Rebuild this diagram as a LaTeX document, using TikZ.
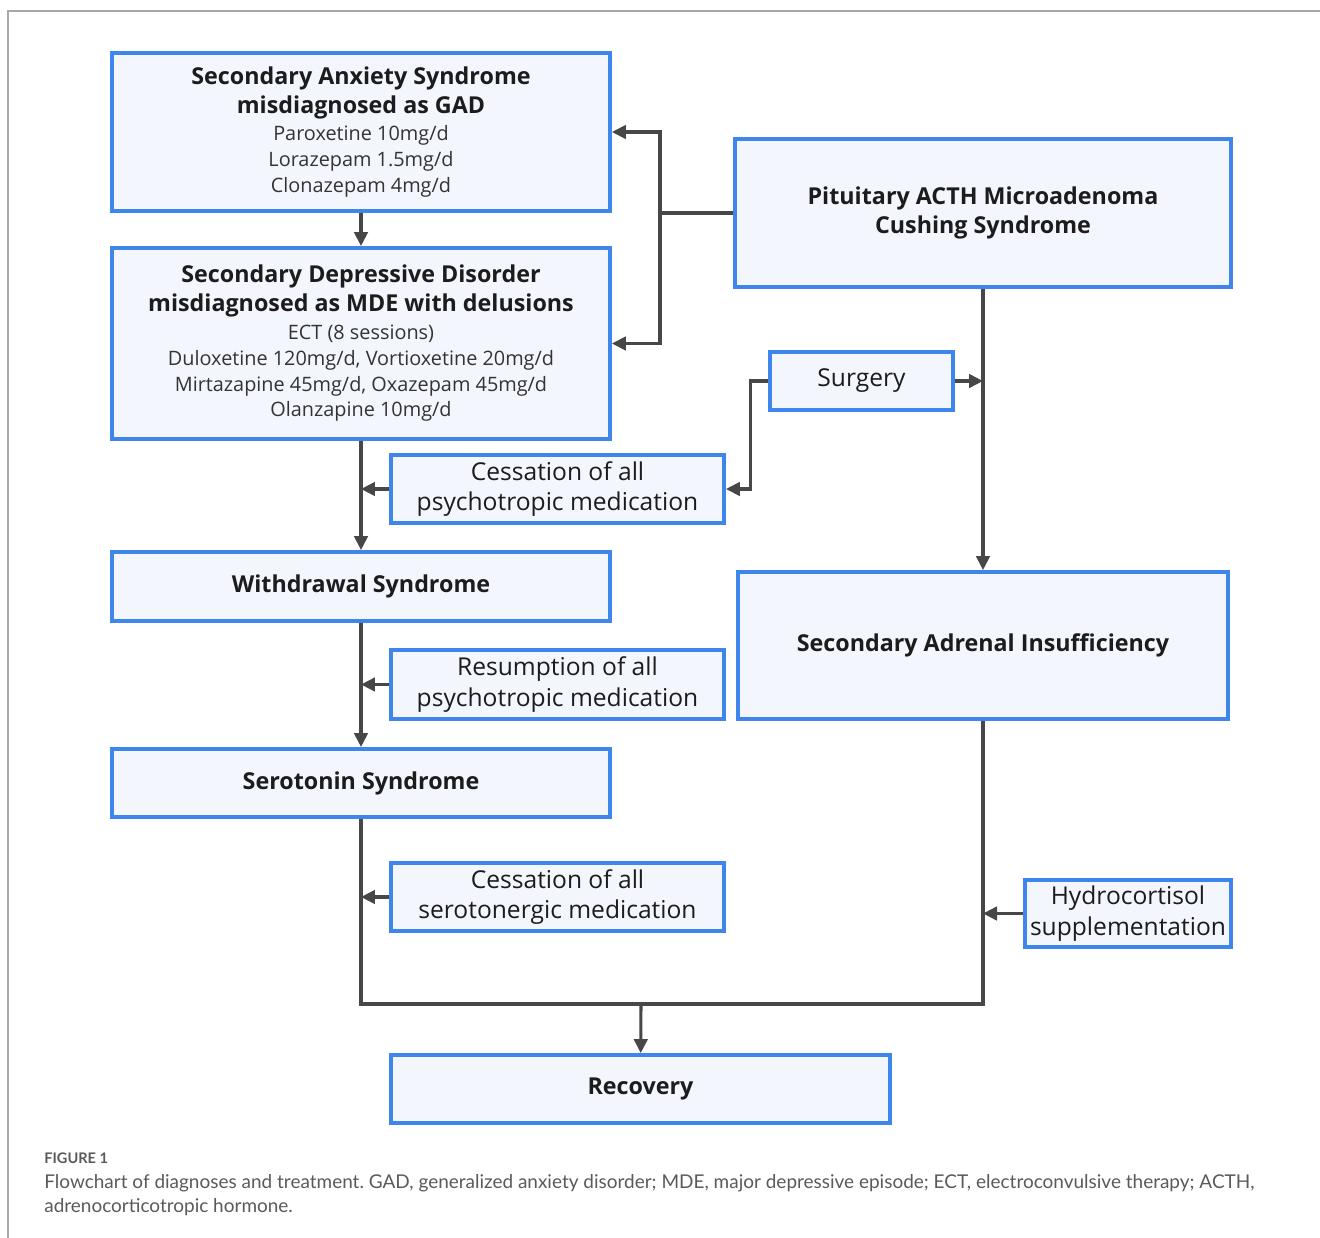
\documentclass[tikz,border=0pt]{standalone}
\usepackage{fontspec}
\setmainfont{Open Sans}
\newfontfamily\capfont{Lato}
\usepackage{tikz}
\usetikzlibrary{
  arrows.meta,
  positioning,
  calc
}
\definecolor{fcBlue}{HTML}{3E86EC}
\definecolor{fcFill}{HTML}{F3F6FD}
\definecolor{fcLine}{HTML}{474747}
\definecolor{fcText}{HTML}{1C1C1C}
\definecolor{fcDrug}{HTML}{333333}
\definecolor{fcCap}{HTML}{5A5A5A}
\definecolor{fcFrame}{HTML}{A8A8A8}
\newcommand{\fchead}{\fontsize{13.25}{16.4}\selectfont\bfseries}
\newcommand{\fcdrug}{\fontsize{11.3}{14.7}\selectfont\mdseries\color{fcDrug}}
\newcommand{\fcstep}{\fontsize{14}{17.6}\selectfont}
\tikzset{
  fcnode/.style={
    draw=fcBlue, fill=fcFill, line width=2.2pt, inner sep=0pt,
    align=center, text=fcText
  },
  dxbox/.style={fcnode, minimum width=9.96cm, font=\fchead},
  stepbox/.style={fcnode, minimum width=6.66cm, minimum height=1.36cm, font=\fcstep},
  flow/.style={-{Triangle[length=2.8mm, width=2.7mm]}, line width=1.75pt, fcLine},
  netline/.style={line width=1.75pt, fcLine},
  captext/.style={anchor=base west, inner sep=0pt, text=fcCap}
}
\begin{document}
\frenchspacing
\begin{tikzpicture}[x=0.02cm, y=-0.02cm]
  \useasboundingbox (0,0) rectangle (1320,1238);
  \draw[fcFrame, line width=0.6pt] (8,1238) -- (8,11) -- (1320,11);

  \node[dxbox, minimum height=3.16cm] (anx) at (361,132)
    {\fchead Secondary Anxiety Syndrome\\ \fchead misdiagnosed as GAD\\[-1.1pt]
     \fcdrug Paroxetine 10mg/d\\[-1.7pt] \fcdrug Lorazepam 1.5mg/d\\[-1.7pt] \fcdrug Clonazepam 4mg/d};
  \node[dxbox, minimum height=3.82cm] (dep) at (361,343.5)
    {\fchead Secondary Depressive Disorder\\ \fchead misdiagnosed as MDE with delusions\\[-0.6pt]
     \fcdrug ECT (8 sessions)\\[-1.7pt] \fcdrug Duloxetine 120mg/d, Vortioxetine 20mg/d\\[-1.7pt]
     \fcdrug Mirtazapine 45mg/d, Oxazepam 45mg/d\\[-1.7pt] \fcdrug Olanzapine 10mg/d};
  \node[dxbox, minimum width=9.92cm, minimum height=2.96cm] (pit) at (983,213)
    {Pituitary ACTH Microadenoma\\[0.6pt] Cushing Syndrome};
  \node[stepbox, minimum width=3.66cm, minimum height=1.16cm] (surg) at (861.5,381) {Surgery};
  \node[stepbox] (stop1) at (557.5,489) {Cessation of all\\ psychotropic medication};
  \node[dxbox, minimum height=1.38cm] (wd) at (361,586.5) {Withdrawal Syndrome};
  \node[stepbox, minimum height=1.38cm] (resume) at (557.5,684.5) {Resumption of all\\ psychotropic medication};
  \node[dxbox, minimum width=9.8cm, minimum height=2.94cm] (sai) at (983,645.5) {Secondary Adrenal Insufficiency};
  \node[dxbox, minimum height=1.36cm] (sero) at (361,783) {Serotonin Syndrome};
  \node[stepbox] (stop2) at (557.5,897) {Cessation of all\\ serotonergic medication};
  \node[stepbox, minimum width=4.12cm, minimum height=1.34cm] (hydro) at (1128,913.5) {Hydrocortisol\\ supplementation};
  \node[dxbox, minimum width=9.98cm, minimum height=1.36cm] (rec) at (640.5,1089) {Recovery};

  \coordinate (split) at (660,213);
  \coordinate (merge) at (641,1004);

  \draw[flow] (anx) -- (dep);
  \draw[netline] (pit.west) -- (split);
  \draw[flow] (split) |- (anx.east);
  \draw[flow] (split) |- (dep.east);
  \draw[flow] (pit) -- (sai);
  \draw[flow] (surg.east) -- (pit.south |- surg.east);
  \draw[flow] (surg.west) -- ++(-18,0) |- (stop1.east);
  \draw[flow] (dep) -- (wd);
  \draw[flow] (stop1.west) -- (dep.south |- stop1.west);
  \draw[flow] (wd) -- (sero);
  \draw[flow] (resume.west) -- (wd.south |- resume.west);
  \draw[flow] (stop2.west) -- (sero.south |- stop2.west);
  \draw[flow] (hydro.west) -- (sai.south |- hydro.west);
  \draw[netline] (sero.south) |- (merge) -| (sai.south);
  \draw[flow] (merge) -- (rec);

  \node[captext, font=\capfont\fontsize{8.3}{10}\selectfont\bfseries] (fig) at (44,1163) {FIGURE 1};
  \node[captext, font=\capfont\fontsize{10.8}{13.6}\selectfont] (cap1) at (44,1188)
    {Flowchart of diagnoses and treatment. GAD, generalized anxiety disorder; MDE, major depressive episode; ECT, electroconvulsive therapy; ACTH,};
  \node[captext, font=\capfont\fontsize{10.8}{13.6}\selectfont] (cap2) at (44,1212) {adrenocorticotropic hormone.};
\end{tikzpicture}
\end{document}
